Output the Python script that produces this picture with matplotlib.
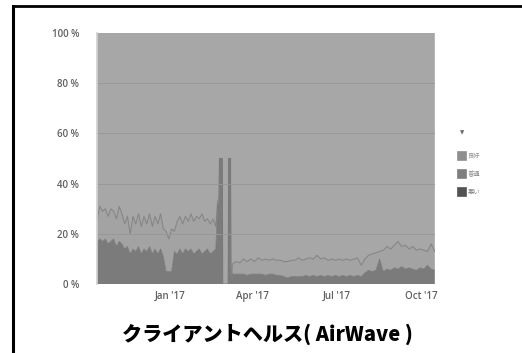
import pandas as pd
import matplotlib
matplotlib.use("Agg")
import matplotlib.pyplot as plt
import matplotlib.dates as mdates
from matplotlib.lines import Line2D

plt.rcParams['font.family'] = ['Open Sans', 'Noto Sans CJK JP', 'DejaVu Sans']

# x positions: every 3 days up to the spike, the spike itself, then every 4 days
dates_a = pd.date_range('2016-10-14', periods=44, freq='3D')
dates_spike = pd.to_datetime([
    '2017-02-22 00:00', '2017-02-23 12:00', '2017-02-24 00:00', '2017-02-27 00:00',
    '2017-02-27 12:00', '2017-03-05 12:00', '2017-03-06 00:00', '2017-03-08 00:00',
    '2017-03-08 12:00', '2017-03-09 12:00',
], format='%Y-%m-%d %H:%M')
dates_c = pd.date_range('2017-03-10', periods=56, freq='4D')
dates = dates_a.append(dates_spike).append(dates_c)

# 悪い (bad), %
bad = [
    17, 18, 17, 18, 16, 17, 18, 15, 17, 16, 14, 15, 12, 14, 13, 15, 12, 14, 13, 15, 12, 14,
    12, 14, 11, 5, 5, 5, 13, 12, 14, 12, 14, 13, 14, 12, 13, 14, 12, 13, 14, 12, 13, 14,
    31, 33, 50, 50, 0, 0, 50, 50, 0, 0,
    4, 4, 4, 4, 3.5, 4, 4, 4, 4, 3.5, 4, 4, 3.5, 3.5, 3, 2.5, 3, 3, 3, 3, 3.5, 3, 3.5, 3,
    3.5, 3, 3.5, 3, 3.5, 3, 3.5, 3, 3.5, 3, 3.5, 3, 4.5, 5.5, 5, 5.5, 10, 5, 6, 5.5, 6.5, 6,
    7, 6, 6.5, 6, 5.5, 6.5, 6, 7.5, 6, 5.5,
]
# 普通 (normal), %
normal = [
    9, 13, 12, 12, 11, 13, 11, 11, 14, 12, 10, 12, 8, 13, 11, 13, 11, 13, 11, 13, 11, 13,
    12, 14, 11, 16, 13, 17, 8, 13, 13, 12, 13, 12, 14, 13, 14, 12, 16, 12, 12, 12, 13, 9,
    2, 1, 0, 0, 0, 0, 0, 0, 0, 0,
    4, 5, 4.5, 6, 5.5, 6, 5, 6.5, 5.5, 6.5, 5.5, 6, 6, 6, 6, 6.5, 6.5, 6.5, 7.5, 6.5, 6.5,
    7.5, 6.5, 8.5, 6.5, 7.5, 6, 7, 6, 7, 6, 7, 6, 7, 7, 4.5, 5.5, 6, 7, 7, 3, 8.5, 9, 8.5,
    9, 11, 8, 9.5, 7.5, 9, 8, 7.5, 7.5, 5.5, 10, 7.5,
]
# 良好 (good) fills the rest up to 100 %
good = [100 - b - n for b, n in zip(bad, normal)]
top = [b + n for b, n in zip(bad, normal)]

tick_dates = pd.to_datetime(['2017-01-01', '2017-04-01', '2017-07-01', '2017-10-01'])
tick_labels = ["Jan '17", "Apr '17", "Jul '17", "Oct '17"]
legend_labels = ['良好', '普通', '悪い']
legend_colors = ['#8e8e8e', '#7e7e7e', '#525252']

fig = plt.figure(figsize=(5.22, 3.53), dpi=100)
ax = fig.add_axes([0.186, 0.195, 0.647, 0.712])

ax.stackplot(dates, bad, normal, good, colors=['#7b7b7b', '#a3a3a3', '#a7a7a7'], lw=0)
ax.plot(dates, top, color='#858585', lw=0.8)
ax.plot(dates, bad, color='#747474', lw=0.5)

ax.set_xlim(pd.Timestamp('2016-10-14'), pd.Timestamp('2017-10-16'))
ax.set_ylim(0, 100)
ax.set_yticks(range(0, 101, 20))
ax.set_yticklabels([f'{v} %' for v in range(0, 101, 20)])
ax.set_xticks(tick_dates)
ax.set_xticklabels(tick_labels)
for y in range(20, 100, 20):
    ax.axhline(y, color='#979797', lw=0.6)
ax.tick_params(length=0, labelsize=7, labelcolor='#606060')
for lbl in ax.get_xticklabels() + ax.get_yticklabels():
    lbl.set_fontweight('semibold')
ax.tick_params(axis='y', pad=13)
ax.tick_params(axis='x', pad=5)
for s in ['top', 'right', 'bottom']:
    ax.spines[s].set_visible(False)
ax.spines['left'].set_color('#d0d0d0')
ax.spines['left'].set_linewidth(1.2)

# legend on the right
fig.text(462 / 522, 1 - 133 / 353, '▼', fontsize=4, color='#6a6a6a',
         ha='center', va='center', family=['DejaVu Sans'])
for i, (lab, col) in enumerate(zip(legend_labels, legend_colors)):
    yy = 1 - (156 + i * 18) / 353
    fig.add_artist(Line2D([462 / 522], [yy], marker='s', markersize=5.5, color=col,
                          markeredgewidth=1.2, markeredgecolor=col,
                          transform=fig.transFigure))
    fig.text(468 / 522, yy, lab, fontsize=4.5, color='#8a8a8a', va='center',
             family=['Noto Sans CJK JP'])

# cropped frame of the slide
fig.add_artist(Line2D([13 / 522, 13 / 522], [0, 1 - 6 / 353], color='black', lw=2.2,
                      transform=fig.transFigure))
fig.add_artist(Line2D([13 / 522, 1], [1 - 6 / 353, 1 - 6 / 353], color='black', lw=2.0,
                      transform=fig.transFigure))

fig.text(0.513, 1 - 334 / 353, 'クライアントヘルス( AirWave )', fontsize=14.5,
         fontweight='heavy', ha='center', va='center', family=['Noto Sans CJK JP'])

fig.savefig('out.png', dpi=100)
